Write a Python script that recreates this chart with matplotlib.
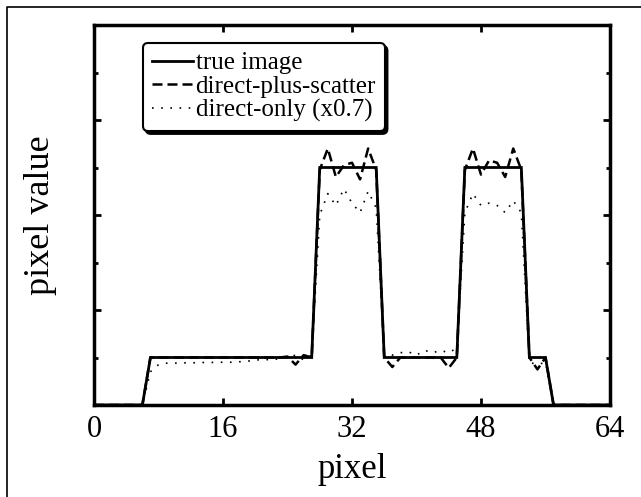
import matplotlib.pyplot as plt
from matplotlib.lines import Line2D
import numpy as np

plt.rcParams['font.family'] = ['Liberation Serif', 'DejaVu Serif']

# pixel index 0..64
pix = np.arange(65)

true_image = [0, 0, 0, 0, 0, 0, 0,
              1, 1, 1, 1, 1, 1, 1, 1, 1, 1, 1, 1, 1, 1, 1, 1, 1, 1, 1, 1, 1,
              5, 5, 5, 5, 5, 5, 5, 5,
              1, 1, 1, 1, 1, 1, 1, 1, 1, 1,
              5, 5, 5, 5, 5, 5, 5, 5,
              1, 1, 1,
              0, 0, 0, 0, 0, 0, 0, 0]

direct_plus_scatter = [0, 0, 0, 0, 0, 0, 0,
                       1.0, 1.0, 1.0, 1.0, 1.0, 1.0, 1.0, 1.0, 1.0, 1.0, 1.0,
                       1.0, 1.0, 1.0, 1.0, 1.0, 1.0, 1.02, 0.85, 1.05, 1.0,
                       4.95, 5.4, 4.8, 5.05, 5.1, 4.75, 5.4, 4.95,
                       1.0, 0.8, 1.0, 1.0, 1.0, 1.0, 1.0, 1.0, 0.78, 1.0,
                       4.95, 5.4, 4.85, 5.15, 5.1, 4.8, 5.4, 4.95,
                       1.0, 0.75, 1.0,
                       0, 0, 0, 0, 0, 0, 0, 0]

direct_only = [0, 0, 0, 0, 0, 0, 0,
               0.7, 0.85, 0.88, 0.88, 0.89, 0.88, 0.9, 0.89, 0.9, 0.9, 0.9,
               0.91, 0.92, 0.95, 0.95, 0.96, 0.97, 1.0, 1.05, 0.95, 1.05,
               4.0, 4.45, 4.2, 4.55, 4.25, 4.05, 4.5, 4.15,
               1.1, 1.05, 1.1, 1.12, 1.05, 1.15, 1.1, 1.15, 1.1, 1.2,
               4.05, 4.45, 4.2, 4.25, 4.2, 4.05, 4.3, 4.05,
               0.9, 0.85, 0.9,
               0, 0, 0, 0, 0, 0, 0, 0]

xticks = [0, 16, 32, 48, 64]

fig = plt.figure(figsize=(6.41, 4.97), dpi=100)
ax = fig.add_axes([94/641, 92/497, 516/641, 380/497])

ax.plot(pix, true_image, color='black', lw=2.0, solid_joinstyle='miter',
        label='true image')
ax.plot(pix, direct_plus_scatter, color='black', lw=1.8, dashes=[4, 2],
        label='direct-plus-scatter')
ax.plot(pix, direct_only, color='black', lw=1.2, dashes=[1.0, 4.5],
        label='direct-only (x0.7)')

ax.set_xlim(0, 64)
ax.set_ylim(0, 8)
ax.set_xticks(xticks)
ax.set_xticklabels([str(t) for t in xticks], fontsize=22)
ax.set_yticks([2, 4, 6])
ax.set_yticks([1, 3, 5, 7], minor=True)
ax.set_yticklabels([])
ax.tick_params(which='both', direction='in', top=True, right=True, width=2)
ax.tick_params(which='major', length=5, pad=7)
ax.tick_params(which='minor', length=3)
for s in ax.spines.values():
    s.set_linewidth(2.5)

ax.set_xlabel('pixel', fontsize=25)
ax.set_ylabel('pixel value', fontsize=26)
ax.xaxis.set_label_coords(0.5, -0.125)
ax.yaxis.set_label_coords(-0.072, 0.5)

leg = ax.legend(loc='upper left', bbox_to_anchor=(49/516, 362/380),
                borderaxespad=0, fontsize=18, handlelength=1.65,
                handletextpad=0.1, labelspacing=0.05, borderpad=0.35,
                fancybox=True, edgecolor='black', framealpha=1,
                shadow={'color': 'black', 'alpha': 1})
leg.get_frame().set_linewidth(1.5)

# outer frame (left and top edges visible)
fig.add_artist(Line2D([7/641, 7/641, 1], [0, 1 - 7/497, 1 - 7/497],
                      transform=fig.transFigure, color='black', lw=1.2))

fig.savefig('out.png', dpi=100)
